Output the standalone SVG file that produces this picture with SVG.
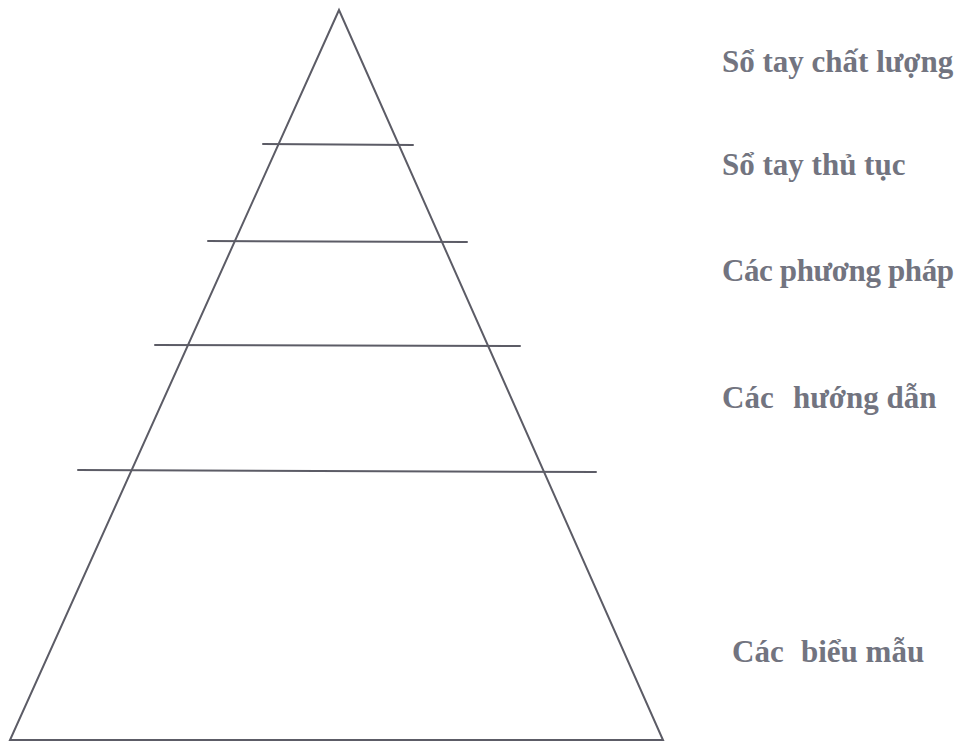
<svg xmlns="http://www.w3.org/2000/svg" width="965" height="742" viewBox="0 0 965 742">
<style>
.ln{stroke:#5c5c66;stroke-width:2;fill:none;stroke-linecap:round}
.lb{font-family:"Liberation Serif",serif;font-weight:bold;font-size:31px;fill:#727480}
</style>
<rect width="965" height="742" fill="#ffffff"/>
<g id="pyramid">
<path class="ln" d="M339 10 L10 740 L663 740 Z" stroke-linejoin="miter"/>
</g>
<g id="connectors">
<line class="ln" x1="263" y1="144" x2="413" y2="145"/>
<line class="ln" x1="208" y1="241" x2="467" y2="242"/>
<line class="ln" x1="155" y1="345" x2="520" y2="346"/>
<line class="ln" x1="78" y1="470" x2="596" y2="472"/>
</g>
<g id="level1"><text class="lb" x="722" y="72">Sổ tay chất lượng</text></g>
<g id="level2"><text class="lb" x="722" y="175">Sổ tay thủ tục</text></g>
<g id="level3"><text class="lb" x="722" y="281" textLength="232">Các phương pháp</text></g>
<g id="level4"><text class="lb" x="722" y="408">Các <tspan x="793">hướng dẫn</tspan></text></g>
<g id="level5"><text class="lb" x="732" y="662">Các <tspan x="801">biểu mẫu</tspan></text></g>
</svg>
